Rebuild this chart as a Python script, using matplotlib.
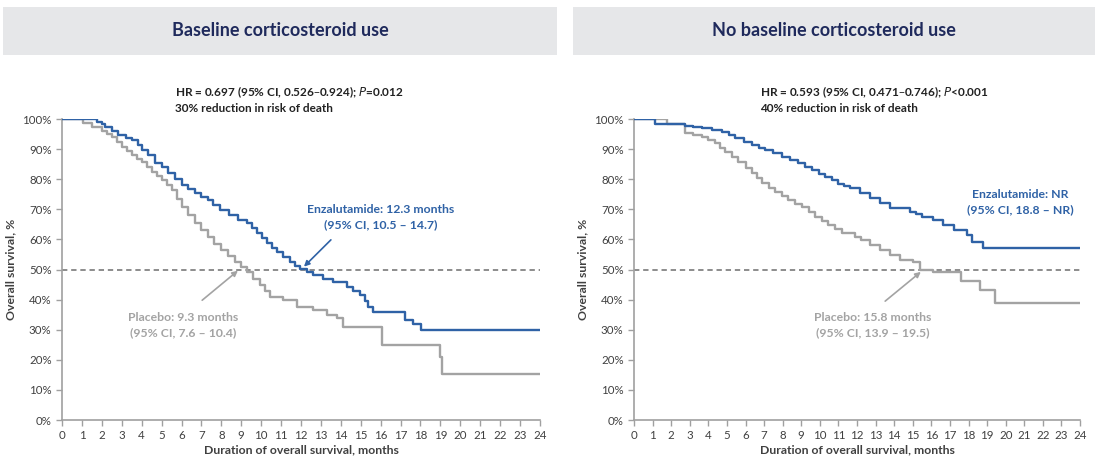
import matplotlib
matplotlib.use("Agg")
import matplotlib.pyplot as plt
from matplotlib.patches import Rectangle
from matplotlib.ticker import PercentFormatter

plt.rcParams['font.family'] = ['Lato', 'DejaVu Sans']

BLUE = '#2f62a6'
GREY = '#a3a3a3'
NAVY = '#1f2a5c'
TXT = '#404040'

# --- data (months, % surviving after that time) ---
left_enz_t = [0, 1.76, 2.0, 2.16, 2.5, 2.81, 3.2, 3.51, 3.8, 4.02, 4.3, 4.67, 5.0, 5.32, 5.65,
              6.0, 6.35, 6.68, 7.0, 7.33, 7.6, 7.93, 8.4, 8.84, 9.29, 9.55, 9.79, 10.05,
              10.29, 10.55, 10.79, 11.1, 11.45, 11.7, 11.95, 12.3, 12.6, 13.1, 13.6, 14.3,
              14.6, 14.96, 15.2, 15.36, 15.6, 17.2, 17.6, 18.05, 24]
left_enz_s = [100, 99, 98.3, 97.3, 96.0, 94.7, 93.8, 93, 91.5, 89.7, 88, 85.4, 84, 82, 80,
              78, 76.8, 75.4, 74.2, 73, 71.5, 69.8, 68, 66.4, 65.4, 63.8, 62.1, 60.5,
              58.8, 57.2, 55.8, 54.2, 52.5, 51.3, 50.2, 49.2, 48.2, 47.0, 45.8, 44.2,
              43, 41.5, 39.5, 37.5, 35.9, 33.2, 32.0, 30.0, 30.0]

left_pbo_t = [0, 1.05, 1.5, 2.0, 2.25, 2.5, 2.75, 3.0, 3.25, 3.5, 3.75, 4.0, 4.25, 4.5, 4.75,
              5.0, 5.25, 5.5, 5.75, 6.0, 6.35, 6.7, 7.0, 7.33, 7.65, 8.0, 8.35, 8.7, 9.0,
              9.3, 9.6, 9.94, 10.2, 10.44, 11.1, 11.8, 12.6, 13.3, 13.8, 14.1, 16.06,
              18.98, 19.1, 24]
left_pbo_s = [100, 98.6, 97.5, 96, 95, 94, 92.3, 90.7, 89.3, 88, 86.8, 85.7, 84, 82.4, 81,
              79.7, 78, 76.4, 73.5, 70.8, 68, 65.4, 63, 60.8, 58.6, 56.5, 54.5, 52.5, 50.8,
              49.2, 47, 44.9, 42.8, 40.9, 39.9, 37.5, 36.5, 34.9, 33.9, 30.9, 24.9,
              20.9, 15.2, 15.2]

right_enz_t = [0, 1.13, 2.74, 3.2, 3.66, 4.2, 4.74, 5.1, 5.44, 5.9, 6.35, 6.7, 7.05, 7.5,
               7.97, 8.4, 8.83, 9.2, 9.58, 9.93, 10.28, 10.63, 10.98, 11.3, 11.6, 12.15,
               12.7, 13.25, 13.78, 14.85, 15.2, 15.5, 16.1, 16.65, 17.2, 17.9, 18.2, 18.8, 24]
right_enz_s = [100, 98.5, 97.8, 97.4, 97.0, 96.4, 95.7, 94.7, 93.7, 92.5, 91.4, 90.5, 89.7,
               88.6, 87.4, 86.4, 85.4, 84.2, 83, 81.8, 80.7, 79.6, 78.5, 77.7, 77, 75.3,
               73.7, 72, 70.4, 69.1, 68.3, 67.5, 66.4, 64.8, 63.1, 61.5, 59.1, 57.1, 57.1]

right_pbo_t = [0, 1.8, 2.74, 3.2, 3.66, 4.0, 4.36, 4.65, 4.9, 5.25, 5.6, 6.0, 6.35, 6.6, 6.9,
               7.25, 7.6, 7.95, 8.3, 8.65, 9.04, 9.4, 9.74, 10.1, 10.44, 10.8, 11.2, 11.9,
               12.2, 12.7, 13.24, 13.75, 14.3, 15.0, 15.4, 16.1, 17.6, 18.6, 19.45, 24]
right_pbo_s = [100, 98.3, 95.5, 94.8, 94, 93, 92, 90.5, 89, 87.3, 85.7, 83.8, 82, 80.3, 78.7,
               77.2, 75.7, 74.3, 73, 71.9, 70.8, 69.1, 67.4, 66.1, 64.8, 63.4, 62.1, 60.8,
               59.8, 58.1, 56.5, 54.9, 53.2, 52.5, 49.8, 49.2, 46.2, 43.2, 39, 39]

headers = ['Baseline corticosteroid use', 'No baseline corticosteroid use']
hr_lines = [('HR = 0.697 (95% CI, 0.526\u20130.924); $\\mathbf{\\it{P}}$=0.012',
             '30% reduction in risk of death'),
            ('HR = 0.593 (95% CI, 0.471\u20130.746); $\\mathbf{\\it{P}}$<0.001',
             '40% reduction in risk of death')]
enz_labels = ['Enzalutamide: 12.3 months\n(95% CI, 10.5 \u2013 14.7)',
              'Enzalutamide: NR\n(95% CI, 18.8 \u2013 NR)']
pbo_labels = ['Placebo: 9.3 months\n(95% CI, 7.6 \u2013 10.4)',
              'Placebo: 15.8 months\n(95% CI, 13.9 \u2013 19.5)']
month_ticks = list(range(0, 25))
pct_ticks = list(range(0, 101, 10))

W, H = 1098, 461
fig = plt.figure(figsize=(W / 100, H / 100), dpi=100)


def fx(px):
    return px / W


def fy(py):
    return 1 - py / H


# header boxes
for (x0, x1), title in zip([(3, 557), (573, 1095)], headers):
    fig.patches.append(Rectangle((fx(x0), fy(55)), fx(x1 - x0), 48 / H,
                                 transform=fig.transFigure, facecolor='#e6e7e9',
                                 edgecolor='none', zorder=0))
    fig.text(fx((x0 + x1) / 2), fy(31), title, ha='center', va='center',
             fontsize=13, fontweight='bold', color=NAVY)

ax_l = fig.add_axes([fx(62), fy(420), fx(540 - 62), (420 - 119) / H])
ax_r = fig.add_axes([fx(634), fy(420), fx(1080 - 634), (420 - 119) / H])

panels = [
    (ax_l, left_enz_t, left_enz_s, left_pbo_t, left_pbo_s),
    (ax_r, right_enz_t, right_enz_s, right_pbo_t, right_pbo_s),
]

for i, (ax, et, es, pt, ps) in enumerate(panels):
    ax.axhline(50, color='#6e6e6e', lw=1.1, ls=(0, (3.5, 2.5)), zorder=1)
    ax.step(pt, ps, where='post', color=GREY, lw=1.7, zorder=2)
    ax.step(et, es, where='post', color=BLUE, lw=1.7, zorder=3)

    ax.set_xlim(0, 24)
    ax.set_ylim(0, 100)
    ax.set_xticks(month_ticks)
    ax.set_yticks(pct_ticks)
    ax.yaxis.set_major_formatter(PercentFormatter(decimals=0))
    for s in ['top', 'right']:
        ax.spines[s].set_visible(False)
    for s in ['left', 'bottom']:
        ax.spines[s].set_color('#a0a0a0')
        ax.spines[s].set_linewidth(1.2)
    ax.tick_params(axis='both', colors='#a0a0a0', labelcolor=TXT, labelsize=8.3,
                   length=4, width=1)
    ax.set_xlabel('Duration of overall survival, months', fontsize=8.8,
                  fontweight='bold', color=TXT, labelpad=2)
    ax.set_ylabel('Overall survival, %', fontsize=8.8, fontweight='bold', color=TXT,
                  labelpad=4)

# HR text
for x0, (l1, l2) in zip([175, 760], hr_lines):
    fig.text(fx(x0), fy(92), l1, ha='left', va='center', fontsize=8.5,
             fontweight='bold', color='#222222')
    fig.text(fx(x0), fy(108), l2, ha='left', va='center', fontsize=8.5,
             fontweight='bold', color='#222222')

# median annotations, left
ax_l.text(16.0, 67.3, enz_labels[0], ha='center', va='center', fontsize=8.8,
          fontweight='bold', color=BLUE, linespacing=1.45)
ax_l.annotate('', xy=(12.05, 50.3), xytext=(13.6, 60.5),
              arrowprops=dict(arrowstyle='-|>', color=BLUE, lw=1.2, mutation_scale=8))
ax_l.text(6.1, 31.6, pbo_labels[0], ha='center', va='center', fontsize=8.8,
          fontweight='bold', color=GREY, linespacing=1.45)
ax_l.annotate('', xy=(8.94, 50.2), xytext=(6.93, 39.2),
              arrowprops=dict(arrowstyle='-|>', color=GREY, lw=1.2, mutation_scale=8))

# median annotations, right
ax_r.text(20.8, 72.3, enz_labels[1], ha='center', va='center', fontsize=8.8,
          fontweight='bold', color=BLUE, linespacing=1.45)
ax_r.text(12.86, 31.6, pbo_labels[1], ha='center', va='center', fontsize=8.8,
          fontweight='bold', color=GREY, linespacing=1.45)
ax_r.annotate('', xy=(15.55, 49.8), xytext=(13.4, 38.9),
              arrowprops=dict(arrowstyle='-|>', color=GREY, lw=1.2, mutation_scale=8))

fig.savefig('out.png', dpi=100)
